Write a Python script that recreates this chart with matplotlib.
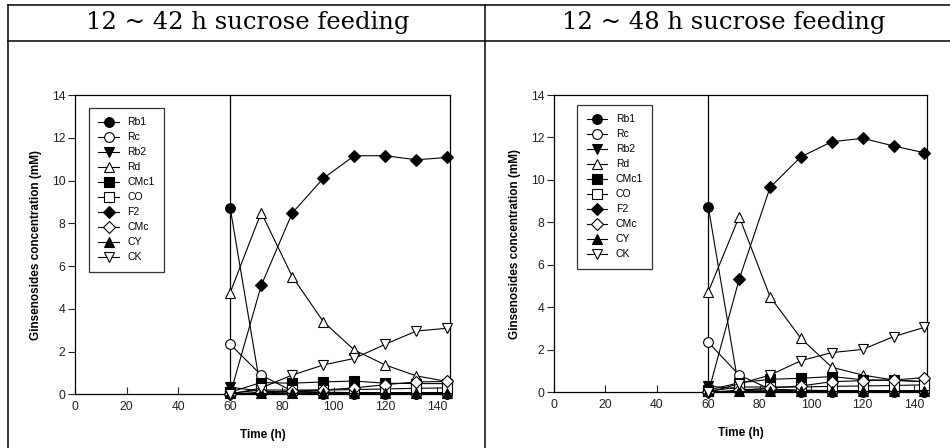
import matplotlib
matplotlib.use('Agg')
import matplotlib.pyplot as plt
from matplotlib.lines import Line2D

# sampling times (h)
times=[60,72,84,96,108,120,132,144]

names=['Rb1','Rc','Rb2','Rd','CMc1','CO','F2','CMc','CY','CK']
titles=['12 ~ 42 h sucrose feeding','12 ~ 48 h sucrose feeding']

# 12 ~ 42 h feeding
rb1_a=[8.72,0.10,0.05,0.03,0.03,0.03,0.03,0.03]
rc_a=[2.34,0.90,0.15,0.10,0.08,0.08,0.08,0.08]
rb2_a=[0.33,0.15,0.10,0.08,0.06,0.06,0.06,0.06]
rd_a=[4.76,8.50,5.51,3.40,2.07,1.37,0.86,0.60]
cmc1_a=[0.10,0.55,0.52,0.58,0.62,0.52,0.50,0.50]
co_a=[0.05,0.20,0.20,0.20,0.22,0.25,0.28,0.30]
f2_a=[0.0,5.09,8.48,10.10,11.16,11.16,10.97,11.08]
cmc_a=[0.0,0.10,0.15,0.20,0.30,0.45,0.58,0.60]
cy_a=[0.05,0.05,0.05,0.05,0.05,0.05,0.05,0.05]
ck_a=[0.0,0.30,0.90,1.37,1.68,2.34,2.96,3.09]

# 12 ~ 48 h feeding
rb1_b=[8.72,0.10,0.05,0.03,0.03,0.03,0.03,0.03]
rc_b=[2.35,0.81,0.15,0.10,0.08,0.08,0.08,0.08]
rb2_b=[0.30,0.15,0.10,0.08,0.06,0.06,0.06,0.06]
rd_b=[4.74,8.27,4.50,2.54,1.18,0.81,0.58,0.50]
cmc1_b=[0.10,0.45,0.61,0.66,0.74,0.59,0.56,0.50]
co_b=[0.05,0.25,0.25,0.25,0.28,0.30,0.32,0.35]
f2_b=[0.0,5.33,9.65,11.09,11.80,11.96,11.60,11.28]
cmc_b=[0.0,0.10,0.20,0.30,0.50,0.55,0.58,0.69]
cy_b=[0.05,0.05,0.05,0.05,0.05,0.05,0.05,0.05]
ck_b=[0.0,0.40,0.81,1.49,1.87,2.02,2.62,3.06]

series_a=[rb1_a,rc_a,rb2_a,rd_a,cmc1_a,co_a,f2_a,cmc_a,cy_a,ck_a]
series_b=[rb1_b,rc_b,rb2_b,rd_b,cmc1_b,co_b,f2_b,cmc_b,cy_b,ck_b]

# marker, filled?
styles=[('o',True),('o',False),('v',True),('^',False),('s',True),
        ('s',False),('D',True),('D',False),('^',True),('v',False)]

plt.rcParams['font.family']=['Liberation Sans','DejaVu Sans']

W,H=950,448
fig=plt.figure(figsize=(W/100,H/100),dpi=100)

# table frame
def hline(y,x0,x1):
    fig.add_artist(Line2D([x0/W,x1/W],[1-y/H,1-y/H],color='k',lw=1.1))
def vline(x,y0,y1):
    fig.add_artist(Line2D([x/W,x/W],[1-y0/H,1-y1/H],color='k',lw=1.1))
hline(5.5,8,950)
hline(41,8,950)
vline(8,5.5,448)
vline(485,5.5,448)

fig.text(248/W,1-23/H,titles[0],family='DejaVu Serif',fontsize=17.5,ha='center',va='center')
fig.text(724/W,1-23/H,titles[1],family='DejaVu Serif',fontsize=17.5,ha='center',va='center')

# axes boxes in pixels: left, top, right, bottom
boxes=[(75,95,450,394.3),(554,95,927,392.3)]
legpos=[(0.037,0.957),(0.062,0.966)]

for k,series in enumerate([series_a,series_b]):
    l,t,r,b=boxes[k]
    ax=fig.add_axes([l/W,1-b/H,(r-l)/W,(b-t)/H])
    for i,vals in enumerate(series):
        m,filled=styles[i]
        ms=7 if m!='D' else 6
        ax.plot(times,vals,marker=m,color='k',lw=0.8,ms=ms,
                mfc='k' if filled else 'white',mec='k',mew=0.8,
                label=names[i],clip_on=False,zorder=3+i*0.1)
    ax.axvline(60,color='k',lw=0.9,zorder=2)
    ax.set_xlim(0,145)
    ax.set_ylim(0,14)
    ax.set_xticks(range(0,141,20))
    ax.set_yticks(range(0,15,2))
    ax.tick_params(axis='x',direction='in',length=5,width=0.8,pad=5,labelsize=8.8,colors='#222222')
    ax.tick_params(axis='y',direction='out',length=5,width=0.8,pad=2,labelsize=8.8,colors='#222222')
    for s in ax.spines.values():
        s.set_linewidth(0.9)
    ax.set_xlabel('Time (h)',fontsize=8.5,fontweight='bold')
    ax.set_ylabel('Ginsenosides concentration (mM)',fontsize=8.5,fontweight='bold')
    ax.xaxis.set_label_coords(0.5,-35/(b-t))
    ax.yaxis.set_label_coords(-33/(r-l),0.5)
    leg=ax.legend(loc='upper left',bbox_to_anchor=legpos[k],fontsize=7.5,frameon=True,
                  fancybox=False,edgecolor='k',borderpad=0.9,labelspacing=0.48,
                  handlelength=2.0,handletextpad=0.8,borderaxespad=0)
    leg.get_frame().set_linewidth(0.9)

plt.savefig('out.png',dpi=100)
